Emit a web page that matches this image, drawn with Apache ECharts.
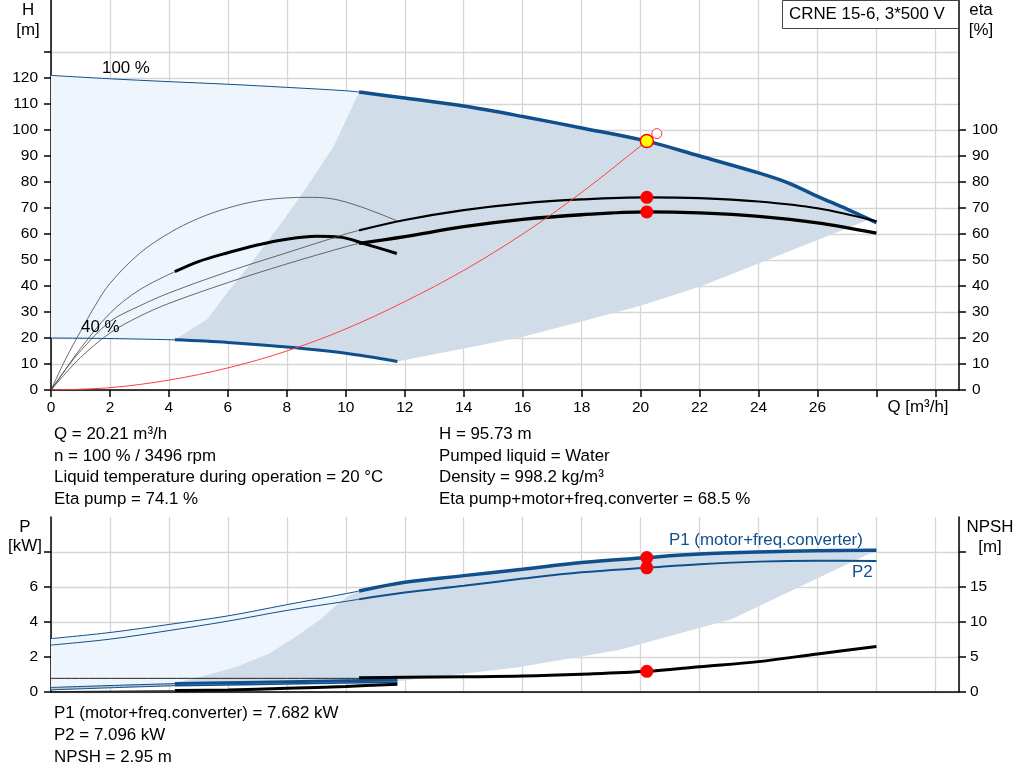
<!DOCTYPE html>
<html><head><meta charset="utf-8">
<script src="https://cdn.jsdelivr.net/npm/echarts@6/dist/echarts.min.js"></script>
<style>html,body{margin:0;padding:0;background:#fff}#c{width:1024px;height:781px}</style>
</head><body><div id="c"></div>
<script>
// ---------- data ----------
const Q_TICKS = [0,2,4,6,8,10,12,14,16,18,20,22,24,26,28,30];
const H_TICKS = [0,10,20,30,40,50,60,70,80,90,100,110,120,130];
const ETA_TICKS = [0,10,20,30,40,50,60,70,80,90,100];
const P_TICKS = [0,2,4,6,8];
const NPSH_TICKS = [0,5,10,15,20];

const H100_thin = [[0,121],[2,119.7],[4,118.6],[6,117.6],[8,116.4],[10,115.1],[10.45,114.6]];
const H100_thick = [[10.45,114.6],[12,112.3],[14,109.2],[16,105.2],[18,100.8],[20.21,95.73],[22,90],[24,83.5],[25,79.7],[26,74.5],[27,69.6],[28,64.4]];
const H40_thin = [[0,20],[2,19.8],[4.2,19.3]];
const H40_thick = [[4.2,19.3],[6,18.3],[8,16.5],[10,14.1],[11.75,11]];
const SYSTEM = [[0,0],[2,0.9],[4,3.8],[6,8.5],[8,15],[10,23.5],[12,34],[14,46],[16,60],[18,76],[20.21,95.73],[20.55,98.6]];
const DARK_LEFT_H = [[4.2,19.3],[4.35,20.5],[5.3,27.2],[5.96,37.2],[6.87,50],[7.89,65.4],[8.68,78.2],[9.58,93.6],[10.45,114.6]];
const DARK_LOWER_H = [[27.75,65.6],[26,57.7],[24,48.7],[22,39.7],[20,32.4],[18,26.3],[16,20.5],[14,16],[11.75,11]];

const ETA_P40 = [[0,0],[0.5,12],[1,22.5],[1.5,32.5],[2,41],[3,52.5],[4,60.3],[5,66],[6,70],[7,72.7],[8,73.9],[8.7,74.1],[9.5,73.6],[10.5,70.5],[11.73,65.1]];
const ETA_T40_thin = [[0,0],[0.5,8],[1,16],[2,29.5],[3,38.5],[4.2,45.5]];
const ETA_T40_thick = [[4.2,45.5],[5,49.4],[6,52.8],[7,55.8],[8,58],[9,59.1],[9.8,58.8],[10.7,56],[11.73,52.5]];
const ETA_P100_thin = [[0,0],[0.5,8],[1,15],[2,26.3],[3,32.3],[4,37.3],[6,45.5],[8,52.8],[10,60],[10.45,61.4]];
const ETA_P100_thick = [[10.45,61.4],[12,65.4],[14,69.2],[16,71.8],[18,73.3],[20.21,74.1],[22,73.8],[24,72.5],[26,69.9],[28,64.9]];
const ETA_T100_thin = [[0,0],[0.5,6.5],[1,12.5],[2,21.9],[3,28.3],[4,33.3],[6,41.3],[8,48.5],[10,55.1],[10.45,56.4]];
const ETA_T100_thick = [[10.45,56.4],[12,59],[14,62.8],[16,65.6],[18,67.4],[20.21,68.5],[22,68.1],[24,66.8],[26,64.3],[28,60.3]];

const P1_100_thin = [[0,3.05],[2,3.4],[4,3.86],[6,4.35],[8,4.99],[10,5.62],[10.45,5.77]];
const P1_100_thick = [[10.45,5.77],[12,6.27],[14,6.65],[16,7.02],[18,7.4],[20.21,7.682],[22,7.88],[24,8.0],[26,8.07],[28,8.1]];
const P2_100_thin = [[0,2.68],[2,3.02],[4,3.51],[6,4.05],[8,4.66],[10,5.18],[10.45,5.3]];
const P2_100_thick = [[10.45,5.3],[12,5.69],[14,6.07],[16,6.48],[18,6.84],[20.21,7.096],[22,7.3],[24,7.45],[26,7.5],[28,7.48]];
const P1_40_thin = [[0,0.26],[2,0.37],[4.2,0.48]];
const P1_40_thick = [[4.2,0.48],[8,0.59],[11.75,0.69]];
const P2_40_thin = [[0,0.12],[2,0.24],[4.2,0.36]];
const P2_40_thick = [[4.2,0.36],[8,0.46],[11.75,0.56]];
const NPSH_thin = [[0,1.95],[10.45,1.95]];
const NPSH_thick = [[10.45,2.05],[12,2.1],[14,2.17],[16,2.27],[18,2.53],[20.21,2.95],[22,3.62],[24,4.34],[26,5.44],[28,6.5]];
const NPSH40_thin = [[0,0.05],[4.2,0.2]];
const NPSH40_thick = [[4.2,0.2],[6,0.3],[8,0.53],[10,0.8],[11.75,1.1]];
const DARK_LEFT_P = [[4.2,0.5],[5.2,0.93],[6.3,1.45],[7.4,2.2],[8.2,3.05],[9.1,4.1],[9.6,4.85],[10.05,5.45],[10.45,5.77]];
const DARK_LOWER_P = [[28,8.1],[23.1,4.17],[19.27,2.4],[15.8,1.4],[11.75,0.62]];

const DUTY_Q = 20.21, DUTY_H = 95.73, ETA_PUMP = 74.1, ETA_TOTAL = 68.5;
const P1_DUTY = 7.682, P2_DUTY = 7.096, NPSH_DUTY = 2.95;
const OPEN_PT = [20.55, 98.6];

// ---------- styling ----------
const FF = 'Liberation Sans, Arial, sans-serif';
const BLUE = '#0f4f8c';
const LIGHT = '#eef5fc';
const DARK = '#d0dce8';
const GRID = '#d6d6d6';

const rev = a => a.slice().reverse();
function poly(pts, color, xi, yi, z) {
  return {type:'custom', xAxisIndex:xi, yAxisIndex:yi, silent:true, z:z||1, clip:true, data:[[0,0]],
    renderItem: (params, api) => ({type:'polygon', shape:{points: pts.map(p => api.coord(p))}, style:{fill:color}})};
}
function line(data, color, width, xi, yi, z) {
  return {type:'line', data, xAxisIndex:xi, yAxisIndex:yi, showSymbol:false, symbol:'none', smooth:0.35,
    lineStyle:{color, width}, z:z||3, silent:true};
}
function dot(pt, fill, border, size, xi, yi, bw) {
  return {type:'scatter', data:[pt], xAxisIndex:xi, yAxisIndex:yi, symbolSize:size, z:10, silent:true,
    itemStyle:{color:fill, borderColor:border, borderWidth:bw||0, opacity:1}};
}

const lightTop = H100_thin.concat(rev(DARK_LEFT_H), rev(H40_thin));
const darkTop = DARK_LEFT_H.concat(H100_thick.filter(p => p[0] < 27.75), DARK_LOWER_H, rev(H40_thick));
const lightBot = P1_100_thin.concat(rev(DARK_LEFT_P), rev(P1_40_thin));
const bandBot = P1_40_thin.concat(P1_40_thick.slice(1), rev(P2_40_thick), rev(P2_40_thin).slice(1));
const darkBot = DARK_LEFT_P.concat(P1_100_thick.slice(1), DARK_LOWER_P.slice(1), rev(P1_40_thick));

const axisBase = {type:'value', axisLine:{show:true, onZero:false, lineStyle:{color:'#000', width:1.5}},
  axisTick:{show:true, length:7, lineStyle:{color:'#000', width:1.5}}};
function yAx(gi, pos, min, max, iv, ticks, labMax, split, margin) {
  return Object.assign({}, axisBase, {gridIndex:gi, position:pos, min, max, interval:iv,
    axisTick:{show:true, length:7, customValues:ticks, lineStyle:{color:'#000', width:1.5}},
    axisLabel:{margin, color:'#000', fontSize:15.5, fontFamily:FF, formatter: v => v <= labMax ? String(v) : ''},
    splitLine:{show:split, lineStyle:{color:GRID, width:1.3}}});
}

const TS = 16.9;
const txt = (x, y, s, align, color, size) => ({type:'text', x, y, silent:true, z:100,
  style:{text:s, fill:color||'#000', fontSize:size||TS, fontFamily:FF, align:align||'left', verticalAlign:'middle'}});

const option = {
  animation:false,
  backgroundColor:'#fff',
  grid:[{left:51, right:65, top:0, height:390}, {left:51, right:65, top:517, height:175}],
  xAxis:[
    Object.assign({}, axisBase, {gridIndex:0, min:0, max:30.8, interval:2,
      axisTick:{show:true, length:7, customValues:Q_TICKS, lineStyle:{color:'#000', width:1.5}},
      axisLabel:{margin:10, color:'#000', fontSize:15.5, fontFamily:FF, formatter: v => v <= 26 ? String(v) : ''},
      splitLine:{show:true, lineStyle:{color:GRID, width:1.3}}}),
    Object.assign({}, axisBase, {gridIndex:1, min:0, max:30.8, interval:2,
      axisTick:{show:false}, axisLabel:{show:false},
      splitLine:{show:true, lineStyle:{color:GRID, width:1.3}}})
  ],
  yAxis:[
    yAx(0,'left',0,150,10,H_TICKS,120,true,13),
    yAx(0,'right',0,150,10,ETA_TICKS,100,false,13),
    yAx(1,'left',0,10,2,P_TICKS,6,true,13),
    yAx(1,'right',0,25,5,NPSH_TICKS,15,false,11)
  ],
  series:[
    poly(lightTop, LIGHT, 0, 0, 1),
    poly(darkTop, DARK, 0, 0, 1),
    line(H100_thin, BLUE, 1, 0, 0),
    line(H100_thick, BLUE, 3.5, 0, 0),
    line(H40_thin, BLUE, 1, 0, 0),
    line(H40_thick, BLUE, 3, 0, 0),
    line(ETA_P40, '#444', 0.8, 0, 1),
    line(ETA_T40_thin, '#444', 0.8, 0, 1),
    line(ETA_T40_thick, '#000', 3, 0, 1),
    line(ETA_P100_thin, '#444', 0.8, 0, 1),
    line(ETA_P100_thick, '#000', 2.2, 0, 1),
    line(ETA_T100_thin, '#444', 0.8, 0, 1),
    line(ETA_T100_thick, '#000', 3.3, 0, 1),
    line(SYSTEM, '#ff4040', 1, 0, 0, 4),
    dot([DUTY_Q, ETA_PUMP], '#ff0000', '#ff0000', 13, 0, 1),
    dot([DUTY_Q, ETA_TOTAL], '#ff0000', '#ff0000', 13, 0, 1),
    dot(OPEN_PT, '#ffffff', '#ff3030', 10, 0, 0, 1),
    dot([DUTY_Q, DUTY_H], '#ffff00', '#ff0000', 13, 0, 0, 1.5),

    poly(lightBot, LIGHT, 1, 2, 1),
    poly(darkBot, DARK, 1, 2, 1),
    poly(bandBot, '#b9c6d4', 1, 2, 1),
    line(P1_100_thin, BLUE, 1, 1, 2),
    line(P1_100_thick, BLUE, 3.5, 1, 2),
    line(P2_100_thin, BLUE, 1, 1, 2),
    line(P2_100_thick, BLUE, 2, 1, 2),
    line(P1_40_thin, BLUE, 1, 1, 2),
    line(P1_40_thick, BLUE, 3, 1, 2),
    line(P2_40_thin, BLUE, 1, 1, 2),
    line(P2_40_thick, BLUE, 1.5, 1, 2),
    line(NPSH_thin, '#222', 1, 1, 3),
    line(NPSH_thick, '#000', 3, 1, 3),
    line(NPSH40_thin, '#222', 1, 1, 3),
    line(NPSH40_thick, '#000', 3, 1, 3),
    dot([DUTY_Q, P1_DUTY], '#ff0000', '#ff0000', 13, 1, 2),
    dot([DUTY_Q, P2_DUTY], '#ff0000', '#ff0000', 13, 1, 2),
    dot([DUTY_Q, NPSH_DUTY], '#ff0000', '#ff0000', 13, 1, 3)
  ],
  graphic:[
    {type:'rect', shape:{x:782.5, y:0.5, width:176, height:28}, style:{fill:'#fff', stroke:'#444', lineWidth:1}, z:99, silent:true},
    txt(789, 14.5, 'CRNE 15-6, 3*500 V', 'left'),
    txt(28, 10, 'H', 'center'), txt(28, 30, '[m]', 'center'),
    txt(981, 10, 'eta', 'center'), txt(981, 30, '[%]', 'center'),
    txt(918, 407, 'Q [m³/h]', 'center'),
    txt(102, 68, '100 %', 'left'), txt(81, 327, '40 %', 'left'),
    txt(54, 434, 'Q = 20.21 m³/h'), txt(54, 456, 'n = 100 % / 3496 rpm'),
    txt(54, 477, 'Liquid temperature during operation = 20 °C'), txt(54, 499, 'Eta pump = 74.1 %'),
    txt(439, 434, 'H = 95.73 m'), txt(439, 456, 'Pumped liquid = Water'),
    txt(439, 477, 'Density = 998.2 kg/m³'), txt(439, 499, 'Eta pump+motor+freq.converter = 68.5 %'),
    txt(25, 527, 'P', 'center'), txt(25, 546, '[kW]', 'center'),
    txt(990, 527, 'NPSH', 'center'), txt(990, 547, '[m]', 'center'),
    txt(669, 540, 'P1 (motor+freq.converter)', 'left', BLUE), txt(852, 572, 'P2', 'left', BLUE),
    txt(54, 713, 'P1 (motor+freq.converter) = 7.682 kW'), txt(54, 735, 'P2 = 7.096 kW'), txt(54, 757, 'NPSH = 2.95 m')
  ]
};
const chart = echarts.init(document.getElementById('c'), null, {renderer:'canvas'});
chart.setOption(option);
</script></body></html>
